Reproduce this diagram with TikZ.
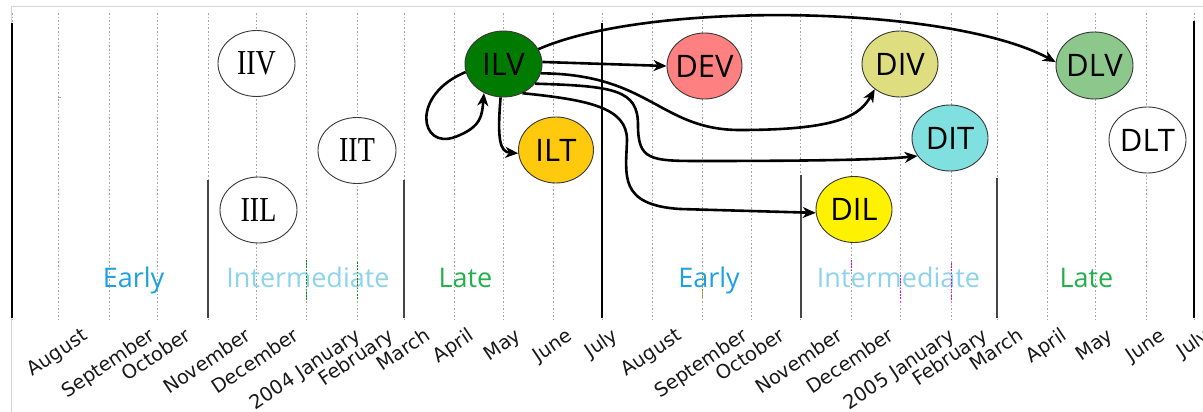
\documentclass[tikz,border=0pt]{standalone}
\usepackage{fontspec}
\usetikzlibrary{shapes.geometric,arrows.meta}

\newfontfamily\monthfamily{DejaVu Sans}
\newfontfamily\phasefamily{Open Sans}
\newfontfamily\nodesans{Open Sans}
\newfontfamily\nodeserif[FakeStretch=0.8]{Liberation Serif}

\newcommand\monthfont{\monthfamily\fontsize{19.3}{22}\selectfont}
\newcommand\zw[1]{\makebox[0pt]{#1}}

\definecolor{framegray}{RGB}{212,212,212}
\definecolor{gridgray}{RGB}{165,165,165}
\definecolor{sepgray}{RGB}{70,70,70}
\definecolor{monthgray}{RGB}{25,25,25}
\definecolor{earlyblue}{RGB}{27,161,226}
\definecolor{interblue}{RGB}{142,211,236}
\definecolor{lategreen}{RGB}{34,177,76}
\definecolor{ilvfill}{RGB}{0,122,0}
\definecolor{devfill}{RGB}{255,128,128}
\definecolor{iltfill}{RGB}{255,201,14}
\definecolor{divfill}{RGB}{222,222,128}
\definecolor{dlvfill}{RGB}{140,200,140}
\definecolor{ditfill}{RGB}{128,224,224}
\definecolor{dilfill}{RGB}{255,242,0}
\definecolor{speckgreen}{RGB}{0,150,0}
\definecolor{speckolive}{RGB}{160,160,0}
\definecolor{speckpink}{RGB}{230,0,230}

\tikzset{
  gridline/.style={draw=gridgray, line width=0.9pt, dash pattern=on 1.6pt off 2pt},
  yearline/.style={draw=black, line width=2.8pt},
  sepline/.style={draw=sepgray, line width=1.2pt},
  monthlab/.style={font=\monthfont, text=monthgray, rotate=34, inner sep=0pt,
                   text height=14.1pt, text depth=4.2pt},
  phase/.style={font=\phasefamily\fontsize{27}{30}\selectfont, anchor=base, inner sep=0pt},
  stage/.style={ellipse, draw=black!78, line width=0.9pt, inner sep=0pt,
                minimum width=77pt, minimum height=66pt},
  sansstage/.style={stage, font=\nodesans\fontsize{31}{34}\selectfont},
  serifstage/.style={stage, font=\nodeserif\fontsize{35}{37}\selectfont},
  flow/.style={draw=black, line width=2.6pt,
               -{Stealth[length=13pt,width=11pt,inset=4pt]}},
  speck/.style={line width=1pt, dash pattern=on 1.6pt off 1.6pt}
}

% rotated month label whose bounding box hangs from the axis at y = 327
\newcommand\monthlabel[3]{%
  \begingroup
  \monthfont
  \pgfmathsetmacro\labw{width("#3")}%
  \pgfmathsetmacro\laby{327+(\labw*sin(34)+18.3*cos(34))/2}%
  \node[monthlab] (#1) at (#2,\laby) {#3};%
  \endgroup}

\begin{document}
\begin{tikzpicture}[x=1pt,y=-1pt]
\useasboundingbox (0,0) rectangle (1203,412);
\clip (0,0) rectangle (1203,412);
\fill[white] (0,0) rectangle (1203,412);

% outer frame
\draw[framegray, line width=1pt] (11,7) -- (1203,7);
\draw[framegray, line width=1pt] (11,7) -- (11,412);

% monthly grid
\foreach \x in {12,58,109,157,208,256,306,357,404,454,503,553,602,
                652,702,751,800,851,900,951,997,1047,1095,1146,1194}
  {\draw[gridline] (\x,13) -- (\x,320);}
\draw[gridgray, line width=0.8pt] (58,97) -- (61,97);

% year boundaries (July)
\draw[yearline] (12,23) -- (12,318);
\draw[yearline] (602,23) -- (602,318);
\draw[yearline] (1194,21) -- (1194,318);

% phase boundaries
\draw[sepline] (208,180) -- (208,318);
\draw[sepline] (404,180) -- (404,318);
\draw[sepline] (801,175) -- (801,318);
\draw[sepline] (997,178) -- (997,318);

% phase names
\node[phase, text=earlyblue]  (e1) at (133.5,287) {Early};
\node[phase, text=interblue]  (i1) at (308,287)   {Intermediate};
\node[phase, text=lategreen]  (l1) at (465.5,287) {Late};
\node[phase, text=earlyblue]  (e2) at (709,287)   {Early};
\node[phase, text=interblue]  (i2) at (898.5,287) {Intermediate};
\node[phase, text=lategreen]  (l2) at (1086.5,287) {Late};

% coloured grid remnants
\draw[speck, draw=speckgreen] (306,260) -- (306,300);
\draw[speck, draw=speckgreen] (357,262) -- (357,300);
\draw[speck, draw=speckolive] (702,273) -- (702,297);
\draw[speck, draw=speckpink] (851,260) -- (851,272);
\draw[speck, draw=speckpink] (900,275) -- (900,302);
\draw[speck, draw=speckpink] (951,263) -- (951,300);

% month labels
\foreach \n/\x/\t in {1/58/August,2/109/September,3/157/October,4/208/November,
    5/256/December,6/306/2004 January,7/357/February,8/404/March,9/454/April,
    10/503/May,11/553/June,12/602/July,13/652/August,14/702/September,
    15/751/October,16/800/November,17/851/December,18/900/2005 January,
    19/951/February,20/997/March,21/1047/April,22/1095/May,23/1146/June,
    24/1194/July}
  {\monthlabel{m\n}{\x}{\t}}

% stages
\node[serifstage, fill=white]               (IIV) at (256.5,63.5) {\zw{IIV}};
\node[serifstage, fill=white, minimum width=78pt] (IIT) at (357,150.5) {\zw{IIT}};
\node[serifstage, fill=white]               (IIL) at (258.5,210) {\zw{IIL}};
\node[sansstage, fill=ilvfill]              (ILV) at (503.5,64)  {\zw{ILV}};
\node[sansstage, fill=devfill, minimum width=75pt] (DEV) at (704.5,66) {\zw{DEV}};
\node[sansstage, fill=iltfill, minimum width=75pt] (ILT) at (556,150) {\zw{ILT}};
\node[sansstage, fill=divfill, minimum width=76pt] (DIV) at (900,64) {\zw{DIV}};
\node[sansstage, fill=dlvfill, minimum height=67pt] (DLV) at (1094.5,65.5) {\zw{DLV}};
\node[sansstage, fill=ditfill, minimum width=76pt] (DIT) at (950,138) {\zw{DIT}};
\node[sansstage, fill=white]                (DLT) at (1147.5,140) {\zw{DLT}};
\node[sansstage, fill=dilfill, minimum width=76pt] (DIL) at (854,209.5) {\zw{DIL}};

% transitions out of ILV
\draw[flow] (ILV.23) .. controls (650,0) and (950,5) .. (DLV.175);
\draw[flow] (ILV.3) -- (DEV.west);
\draw[flow] (ILV.-14) .. controls (650,74) and (660,130) .. (740,130)
            .. controls (840,130) and (860,115) .. (DIV.225);
\draw[flow] (ILV.-32) .. controls (615,86) and (638,90) .. (638,125)
            .. controls (638,160) and (650,161) .. (700,161)
            .. controls (800,161) and (880,160) .. (DIT.209);
\draw[flow] (ILV.-57) .. controls (590,100) and (627,108) .. (627,140)
            .. controls (626,175) and (618,205) .. (680,209) -- (DIL.185);
\draw[flow] (ILV.192) .. controls (410,95) and (420,150) .. (455,137)
            .. controls (482,127) and (482,115) .. (ILV.236);
\draw[flow] (ILV.265) .. controls (497,140) and (500,152) .. (ILT.185);
\end{tikzpicture}
\end{document}
